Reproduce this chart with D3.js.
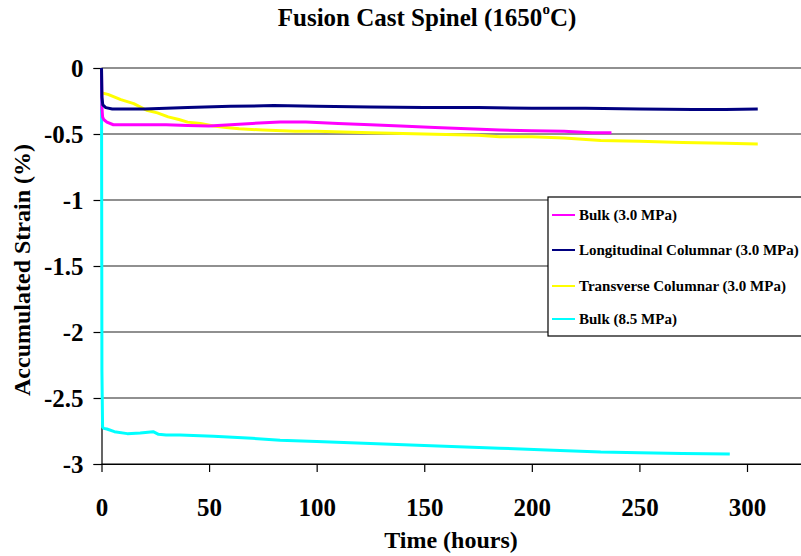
<!DOCTYPE html>
<html>
<head>
<meta charset="utf-8">
<script src="https://cdn.jsdelivr.net/npm/d3@7"></script>
<style>
  html, body { margin: 0; padding: 0; background: #fff; }
  svg { display: block; }
  text { font-family: "Liberation Serif", "Times New Roman", serif; font-weight: bold; fill: #000; }
</style>
</head>
<body>
<svg id="chart" width="801" height="556"></svg>
<script>
// Creep test: accumulated strain (%) vs. time (hours)
const seriesNames = [
  "Bulk (3.0 MPa)",
  "Longitudinal Columnar (3.0 MPa)",
  "Transverse Columnar (3.0 MPa)",
  "Bulk (8.5 MPa)"
];
const seriesColors = ["#ff00ff", "#000080", "#ffff00", "#00ffff"];

const bulk3Time   = [0, 0.2, 0.5, 1, 2.5, 5.5, 10, 20, 30, 40, 50, 60, 70, 83, 95, 110, 125, 139, 155, 170, 185, 200, 215, 228, 237];
const bulk3Strain = [0, -0.30, -0.37, -0.39, -0.41, -0.43, -0.43, -0.43, -0.43, -0.435, -0.44, -0.43, -0.42, -0.41, -0.41, -0.42, -0.43, -0.44, -0.45, -0.46, -0.47, -0.475, -0.48, -0.49, -0.49];

const longTime   = [0, 0.2, 0.6, 2, 5, 10, 20, 30, 40, 60, 80, 100, 125, 150, 175, 200, 225, 250, 275, 290, 305];
const longStrain = [0, -0.22, -0.28, -0.30, -0.31, -0.31, -0.31, -0.305, -0.30, -0.29, -0.285, -0.29, -0.295, -0.30, -0.30, -0.305, -0.305, -0.31, -0.315, -0.315, -0.31];

const transTime   = [0.3, 3, 9, 15, 21, 26, 31, 36, 40, 46, 52, 58, 64, 75, 90, 100, 125, 150, 175, 185, 200, 215, 232, 250, 270, 290, 305];
const transStrain = [-0.19, -0.20, -0.24, -0.27, -0.32, -0.34, -0.37, -0.39, -0.41, -0.42, -0.44, -0.45, -0.46, -0.47, -0.48, -0.48, -0.49, -0.50, -0.51, -0.52, -0.52, -0.53, -0.55, -0.555, -0.565, -0.57, -0.575];

const bulk8Time   = [0, 0.2, 0.5, 1, 2.5, 6, 12, 18, 24, 26.5, 30, 36.5, 52, 70, 83, 100, 125, 150, 185, 210, 232, 250, 270, 292];
const bulk8Strain = [0, -2.3, -2.72, -2.73, -2.735, -2.755, -2.77, -2.765, -2.755, -2.775, -2.78, -2.78, -2.79, -2.805, -2.82, -2.83, -2.845, -2.86, -2.88, -2.895, -2.91, -2.915, -2.92, -2.925];

const xTicks = [0, 50, 100, 150, 200, 250, 300];
const yTicks = [0, -0.5, -1, -1.5, -2, -2.5, -3];
const yTickLabels = ["0", "-0.5", "-1", "-1.5", "-2", "-2.5", "-3"];

const svg = d3.select("#chart");

const plot = { left: 101.5, right: 801, top: 68, bottom: 464 };
const x = d3.scaleLinear().domain([0, 325]).range([plot.left, plot.left + 325 * (645.5 / 300)]);
const y = d3.scaleLinear().domain([-3, 0]).range([plot.bottom, plot.top]);

// Horizontal gridlines
svg.append("g")
  .selectAll("line")
  .data(yTicks)
  .join("line")
  .attr("x1", plot.left)
  .attr("x2", plot.right)
  .attr("y1", d => y(d))
  .attr("y2", d => y(d))
  .attr("stroke", d => d === -3 ? "#000" : "#222")
  .attr("stroke-width", 1.2);

// Y axis
const yAxis = svg.append("g")
  .attr("transform", `translate(${plot.left},0)`)
  .call(d3.axisLeft(y).tickValues(yTicks).tickFormat((d, i) => yTickLabels[i]).tickSize(8).tickPadding(10));
yAxis.select(".domain").attr("stroke", "#000").attr("stroke-width", 1.2);
yAxis.selectAll(".tick line").attr("stroke", "#000").attr("stroke-width", 1.2);
yAxis.selectAll(".tick text")
  .attr("font-family", "Liberation Serif, serif")
  .attr("font-weight", "bold")
  .attr("font-size", 25)
  .attr("fill", "#000");

// X axis
const xAxis = svg.append("g")
  .attr("transform", `translate(0,${plot.bottom})`)
  .call(d3.axisBottom(x).tickValues(xTicks).tickFormat(d3.format("d")).tickSize(8).tickPadding(26).tickSizeOuter(0));
xAxis.select(".domain").attr("stroke", "#000").attr("stroke-width", 1.2);
xAxis.selectAll(".tick line").attr("stroke", "#000").attr("stroke-width", 1.2);
xAxis.selectAll(".tick text")
  .attr("font-family", "Liberation Serif, serif")
  .attr("font-weight", "bold")
  .attr("font-size", 25)
  .attr("fill", "#000");

// Series lines
const line = d3.line().x(d => x(d[0])).y(d => y(d[1]));
const seriesData = [
  d3.zip(bulk3Time, bulk3Strain),
  d3.zip(longTime, longStrain),
  d3.zip(transTime, transStrain),
  d3.zip(bulk8Time, bulk8Strain)
];
const drawOrder = [3, 2, 0, 1];
svg.append("g")
  .selectAll("path")
  .data(drawOrder)
  .join("path")
  .attr("d", i => line(seriesData[i]))
  .attr("fill", "none")
  .attr("stroke", i => seriesColors[i])
  .attr("stroke-width", 3)
  .attr("stroke-linejoin", "round");

// Title with superscript degree "o"
const title = svg.append("text")
  .attr("x", 427)
  .attr("y", 26)
  .attr("text-anchor", "middle")
  .attr("font-size", 25);
title.append("tspan").text("Fusion Cast Spinel (1650");
title.append("tspan").attr("font-size", 15).attr("dy", -12).text("o");
title.append("tspan").attr("dy", 12).text("C)");

// Axis titles
svg.append("text")
  .attr("x", 451)
  .attr("y", 548)
  .attr("text-anchor", "middle")
  .attr("font-size", 24)
  .text("Time (hours)");

svg.append("text")
  .attr("transform", "translate(30,270) rotate(-90)")
  .attr("text-anchor", "middle")
  .attr("font-size", 24)
  .text("Accumulated Strain (%)");

// Legend
const legend = svg.append("g").attr("transform", "translate(548,197)");
legend.append("rect")
  .attr("x", 0).attr("y", 0)
  .attr("width", 260).attr("height", 139)
  .attr("fill", "#fff")
  .attr("stroke", "#000")
  .attr("stroke-width", 1.2);
const legendRows = [18, 53, 89, 122];
const items = legend.selectAll("g.item")
  .data(seriesNames)
  .join("g")
  .attr("class", "item")
  .attr("transform", (d, i) => `translate(0,${legendRows[i]})`);
items.append("line")
  .attr("x1", 4).attr("x2", 27)
  .attr("stroke", (d, i) => seriesColors[i])
  .attr("stroke-width", 2);
items.append("text")
  .attr("x", 31)
  .attr("dy", "0.35em")
  .attr("font-size", 15)
  .text(d => d);
</script>
</body>
</html>
